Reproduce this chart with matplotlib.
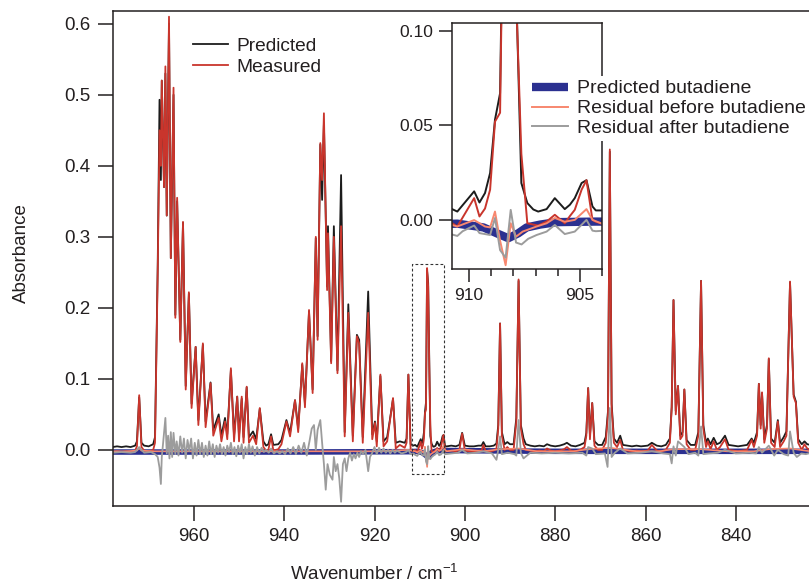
import matplotlib
matplotlib.use("Agg")
import matplotlib.pyplot as plt
from matplotlib.patches import Rectangle
from matplotlib.ticker import MultipleLocator, FormatStrFormatter

plt.rcParams["font.family"] = ["Liberation Sans", "DejaVu Sans"]
plt.rcParams["mathtext.default"] = "regular"
plt.rcParams["text.color"] = "#231f20"
plt.rcParams["axes.labelcolor"] = "#231f20"
plt.rcParams["xtick.color"] = "#231f20"
plt.rcParams["ytick.color"] = "#231f20"

# ------------------------------------
# Spectra (wavenumber in cm-1, absorbance)
# ------------------------------------

wn = [
    # baseline + 972 line
    978.0, 977.0, 976.0, 975.0, 974.0, 973.0, 972.6, 972.1, 971.6, 971.0,
    970.0, 969.0, 968.6,
    # 968-945 band
    968.0, 967.6, 967.3, 967.1, 966.6, 966.3, 966.0, 965.5, 965.1, 964.5,
    964.1, 963.7, 963.0, 962.4, 961.8, 961.1, 960.5, 959.6, 959.0, 958.0,
    957.4, 956.3, 955.7, 954.5, 953.9, 953.1, 952.6, 951.8, 951.1, 950.4,
    950.0, 949.4, 949.0, 948.3, 947.8, 946.9, 946.2, 945.4, 944.6,
    # 944-911 band
    944.0, 943.5, 942.9, 942.4, 941.3, 940.6, 939.5, 938.7, 937.6, 936.9,
    936.0, 935.4, 934.5, 933.7, 933.0, 932.6, 932.0, 931.6, 931.2, 930.5,
    930.3, 929.6, 929.0, 928.2, 927.4, 926.6, 925.8, 924.8, 923.9, 923.4,
    922.6, 921.4, 920.5, 919.9, 919.5, 918.7, 918.0, 917.2, 916.6, 915.9,
    915.3, 914.4, 913.3, 912.9, 912.5, 912.0, 911.4, 911.0,
    # inset region
    910.53, 909.77, 909.53, 909.28, 909.05, 908.83, 908.60, 908.36, 908.12, 907.88,
    907.64, 907.37, 907.10, 906.88, 906.50, 906.13, 905.68, 905.45, 905.23, 904.92,
    904.70, 904.43, 904.28,
    # isolated lines
    904.0, 903.0, 902.0, 901.2, 900.6, 900.0, 899.0, 898.0, 897.0, 896.3,
    895.9, 895.4, 894.5, 893.6, 893.0, 892.6, 892.2, 891.8, 891.2, 890.6,
    890.0, 889.2, 888.6, 888.1, 887.6, 887.0, 886.5, 885.5, 884.5, 883.5,
    882.5, 881.8, 881.0, 880.0, 879.0, 878.0, 877.4, 876.5, 875.5, 874.5,
    873.5, 873.1, 872.7, 872.3, 871.8, 871.3, 870.5, 869.6, 868.8, 868.3,
    867.9, 867.5, 867.0, 866.3, 865.6, 865.0, 864.0, 863.0, 862.0, 861.0,
    859.5, 858.6, 857.5, 856.5, 855.5, 854.6, 854.2, 853.8, 853.3, 852.8,
    852.3, 851.8, 851.4, 850.9, 850.0, 849.0, 848.3, 847.7, 847.2, 846.6,
    846.2, 845.6, 844.9, 844.2, 843.5, 842.4, 841.6, 840.5, 839.5, 838.5,
    837.5, 836.5, 836.0, 835.3, 834.9, 834.5, 834.2, 833.7, 833.1, 832.7,
    832.2, 831.4, 830.7, 830.2, 829.4, 828.8, 828.0, 827.2, 826.7, 826.2,
    825.4, 824.8, 824.2, 823.5,
]

measured = [
    -0.003, -0.002, -0.003, -0.002, -0.003, -0.001, 0.005, 0.077, 0.004, -0.001,
    -0.002, 0.000, 0.010,
    0.250, 0.450, 0.400, 0.520, 0.370, 0.540, 0.330, 0.610, 0.270, 0.510,
    0.186, 0.355, 0.152, 0.321, 0.085, 0.222, 0.059, 0.145, 0.035, 0.150,
    0.032, 0.094, 0.020, 0.045, 0.012, 0.040, 0.015, 0.115, 0.012, 0.075,
    0.012, 0.075, 0.010, 0.089, 0.010, 0.020, 0.008, 0.059, 0.004,
    -0.001, 0.000, 0.019, -0.001, 0.001, 0.008, 0.040, 0.019, 0.070, 0.025,
    0.122, 0.060, 0.197, 0.080, 0.300, 0.155, 0.432, 0.380, 0.474, 0.225,
    0.305, 0.122, 0.300, 0.108, 0.315, 0.019, 0.193, 0.012, 0.160, 0.150,
    0.010, 0.193, 0.015, 0.038, 0.005, 0.106, 0.005, 0.012, 0.040, 0.073,
    0.002, 0.007, 0.003, 0.010, 0.106, 0.000, -0.002, 0.000,
    -0.0035, 0.0115, 0.0018, 0.0060, 0.0160, 0.0520, 0.0567, 0.2560, 0.2300, 0.1200,
    0.0350, -0.0018, -0.0025, -0.0030, -0.0009, 0.0027, -0.0018, 0.0020, 0.0053, 0.0160,
    0.0210, 0.0000, -0.0010,
    -0.002, -0.001, -0.002, 0.000, 0.023, -0.001, -0.002, -0.002, -0.001, -0.001,
    0.007, -0.002, -0.002, -0.001, 0.002, 0.030, 0.178, 0.020, 0.000, 0.004,
    0.000, 0.000, 0.040, 0.240, 0.030, 0.008, 0.000, -0.001, -0.002, -0.001,
    -0.002, 0.002, -0.001, -0.002, -0.001, 0.001, 0.004, -0.001, -0.002, 0.000,
    0.004, 0.020, 0.087, 0.015, 0.066, 0.006, 0.000, 0.000, 0.010, 0.050,
    0.423, 0.060, 0.010, 0.004, 0.014, 0.000, -0.001, -0.002, -0.001, -0.002,
    -0.001, 0.007, -0.001, -0.002, 0.000, 0.010, 0.060, 0.211, 0.050, 0.090,
    0.015, 0.020, 0.085, 0.008, 0.000, 0.000, 0.020, 0.238, 0.030, 0.004,
    0.012, 0.001, 0.012, 0.000, 0.004, 0.015, 0.000, -0.001, -0.002, -0.001,
    0.000, 0.014, 0.004, 0.020, 0.093, 0.030, 0.081, 0.010, 0.030, 0.129,
    0.010, 0.004, 0.040, 0.004, 0.012, 0.020, 0.237, 0.075, 0.066, 0.010,
    0.000, 0.008, 0.002, 0.000,
]

predicted = [
    0.004, 0.005, 0.004, 0.005, 0.004, 0.006, 0.012, 0.074, 0.010, 0.006,
    0.005, 0.008, 0.018,
    0.260, 0.493, 0.380, 0.520, 0.370, 0.530, 0.330, 0.600, 0.270, 0.500,
    0.190, 0.350, 0.155, 0.320, 0.090, 0.220, 0.065, 0.145, 0.042, 0.148,
    0.040, 0.095, 0.028, 0.050, 0.020, 0.045, 0.022, 0.112, 0.020, 0.075,
    0.020, 0.072, 0.018, 0.088, 0.018, 0.026, 0.015, 0.058, 0.012,
    0.006, 0.008, 0.022, 0.007, 0.008, 0.014, 0.042, 0.024, 0.070, 0.030,
    0.120, 0.065, 0.195, 0.085, 0.298, 0.160, 0.430, 0.352, 0.460, 0.230,
    0.315, 0.125, 0.315, 0.112, 0.387, 0.025, 0.205, 0.020, 0.162, 0.155,
    0.018, 0.223, 0.022, 0.040, 0.012, 0.104, 0.012, 0.018, 0.042, 0.072,
    0.010, 0.012, 0.010, 0.016, 0.106, 0.008, 0.006, 0.007,
    0.0044, 0.0151, 0.0092, 0.0142, 0.0248, 0.0530, 0.0670, 0.2520, 0.2350, 0.1250,
    0.0195, 0.0089, 0.0055, 0.0044, 0.0057, 0.0115, 0.0057, 0.0080, 0.0115, 0.0195,
    0.0210, 0.0071, 0.0050,
    0.005, 0.006, 0.005, 0.007, 0.024, 0.006, 0.005, 0.005, 0.006, 0.006,
    0.011, 0.005, 0.005, 0.006, 0.009, 0.035, 0.178, 0.025, 0.008, 0.011,
    0.008, 0.008, 0.045, 0.238, 0.035, 0.016, 0.008, 0.006, 0.005, 0.006,
    0.005, 0.008, 0.006, 0.005, 0.006, 0.008, 0.010, 0.006, 0.005, 0.007,
    0.010, 0.024, 0.087, 0.020, 0.066, 0.012, 0.007, 0.007, 0.018, 0.055,
    0.420, 0.065, 0.016, 0.010, 0.020, 0.007, 0.006, 0.005, 0.006, 0.005,
    0.006, 0.010, 0.006, 0.005, 0.007, 0.016, 0.060, 0.211, 0.055, 0.090,
    0.020, 0.025, 0.085, 0.014, 0.007, 0.007, 0.025, 0.238, 0.035, 0.010,
    0.016, 0.008, 0.017, 0.008, 0.010, 0.020, 0.007, 0.006, 0.005, 0.006,
    0.007, 0.016, 0.010, 0.025, 0.093, 0.035, 0.080, 0.015, 0.035, 0.128,
    0.016, 0.010, 0.042, 0.010, 0.018, 0.026, 0.236, 0.078, 0.068, 0.015,
    0.008, 0.012, 0.008, 0.007,
]

# residual after butadiene (grey)
wn_after = [
    978.0, 976.0, 974.0, 973.0, 972.1, 971.0, 969.5, 968.6, 968.0, 967.6,
    967.3, 967.1, 966.8, 966.3, 966.0, 965.7, 965.4, 965.1, 964.8, 964.5,
    964.1, 963.8, 963.4, 963.0, 962.6, 962.2, 961.8, 961.4, 961.0, 960.6,
    960.2, 959.8, 959.4, 959.0, 958.6, 958.2, 957.8, 957.4, 957.0, 956.6,
    956.2, 955.8, 955.4, 955.0, 954.6, 954.2, 953.8, 953.4, 953.0, 952.6,
    952.2, 951.8, 951.4, 951.0, 950.6, 950.2, 949.8, 949.4, 949.0, 948.6,
    948.2, 947.8, 947.4, 947.0, 946.5, 946.0, 945.5, 945.0, 944.5, 944.0,
    943.4, 942.9, 942.3, 941.6, 941.0, 940.4, 939.8, 939.2, 938.6, 938.0,
    937.4, 936.8, 936.2, 935.6, 935.0, 934.4, 933.9, 933.4, 933.0, 932.6,
    932.0, 931.6, 931.2, 930.8, 930.4, 929.9, 929.3, 929.0, 928.6, 928.2,
    927.8, 927.4, 927.0, 926.6, 926.2, 925.8, 925.4, 925.0, 924.6, 924.2,
    923.8, 923.4, 923.0, 922.5, 922.0, 921.4, 921.0, 920.5, 920.0, 919.5,
    919.0, 918.5, 918.0, 917.5, 917.0, 916.5, 916.0, 915.5, 915.0, 914.0,
    913.0, 912.5, 912.0, 911.4, 911.0, 910.53, 910.29, 909.77, 909.53, 909.28,
    909.05, 908.83, 908.60, 908.35, 908.12, 907.88, 907.63, 907.33, 906.95, 906.50,
    906.13, 905.68, 905.23, 904.70, 904.43, 904.28, 903.0, 901.5, 900.6, 899.5,
    897.5, 895.9, 894.0, 893.0, 892.6, 892.2, 891.8, 890.5, 889.0, 888.6,
    888.1, 887.6, 887.0, 885.5, 883.0, 880.0, 877.0, 874.0, 873.1, 872.7,
    871.8, 871.0, 869.0, 868.4, 867.9, 867.5, 866.8, 865.6, 864.0, 861.0,
    858.6, 856.0, 854.6, 854.2, 853.8, 853.3, 852.8, 851.4, 850.5, 849.0,
    848.3, 847.7, 847.2, 846.0, 844.0, 842.4, 840.0, 837.0, 835.5, 834.9,
    834.2, 832.7, 831.5, 830.7, 829.4, 828.4, 828.0, 827.2, 826.5, 825.5,
    824.5, 823.5,
]

res_after = [
    -0.004, -0.003, -0.004, -0.003, 0.004, -0.004, -0.003, -0.006, -0.010, -0.025,
    -0.048, -0.010, 0.010, 0.045, -0.005, 0.020, -0.012, 0.025, -0.010, 0.024,
    -0.006, 0.012, -0.008, 0.019, -0.004, 0.016, -0.012, 0.014, -0.002, 0.016,
    -0.012, 0.010, -0.008, 0.014, -0.006, 0.010, -0.010, 0.006, -0.008, 0.012,
    -0.006, 0.008, -0.010, 0.006, -0.004, 0.008, -0.006, 0.004, -0.008, 0.006,
    -0.003, 0.010, -0.006, 0.004, -0.009, 0.006, -0.004, 0.008, -0.012, 0.004,
    -0.006, 0.008, -0.004, 0.005, -0.008, 0.004, -0.005, 0.003, -0.003, 0.000,
    -0.004, 0.002, -0.005, -0.002, -0.005, -0.002, -0.006, 0.002, -0.005, 0.004,
    -0.006, 0.006, -0.004, 0.010, -0.008, 0.012, 0.030, 0.035, 0.000, 0.028,
    0.042, 0.010, -0.020, -0.056, -0.020, -0.035, -0.042, -0.010, -0.030, -0.020,
    -0.040, -0.073, -0.020, -0.012, -0.030, -0.012, -0.004, -0.015, -0.006, -0.012,
    -0.004, -0.010, -0.002, -0.006, 0.000, -0.030, -0.010, -0.004, 0.004, -0.006,
    0.003, -0.004, 0.002, -0.004, 0.000, -0.005, 0.000, -0.004, -0.001, -0.005,
    -0.003, 0.000, -0.006, -0.005, -0.007, -0.0085, -0.006, -0.003, -0.007, -0.0075,
    -0.008, 0.001, -0.016, -0.020, 0.0053, -0.012, -0.013, -0.010, -0.008, -0.0062,
    -0.0027, -0.0075, -0.0062, 0.000, -0.0057, -0.006, -0.005, -0.004, 0.000, -0.005,
    -0.004, -0.002, -0.005, -0.014, 0.000, 0.019, -0.006, -0.004, -0.006, -0.008,
    0.042, -0.004, -0.012, -0.004, -0.005, -0.004, -0.005, -0.004, -0.008, 0.004,
    0.002, -0.006, -0.005, -0.024, 0.059, -0.010, -0.004, 0.002, -0.005, -0.004,
    -0.002, -0.005, -0.006, -0.019, 0.005, -0.008, 0.012, 0.004, -0.006, -0.004,
    -0.008, 0.033, -0.006, -0.005, -0.004, 0.000, -0.005, -0.004, -0.005, 0.004,
    -0.004, 0.006, -0.008, 0.000, -0.006, -0.008, 0.026, -0.004, -0.010, -0.005,
    -0.006, -0.004,
]

# residual before butadiene (salmon)
wn_before = [
    978.0, 975.0, 972.6, 972.1, 971.6, 969.0, 968.6, 960.0, 950.0, 944.0,
    938.0, 930.0, 920.0, 912.5, 911.0, 910.53, 909.77, 909.28, 909.05, 908.83,
    908.60, 908.35, 908.12, 907.88, 907.58, 906.95, 906.50, 906.13, 905.68, 905.23,
    904.70, 904.43, 904.0, 900.6, 896.0, 892.2, 888.1, 884.0, 876.0, 872.7,
    867.9, 862.0, 857.0, 853.8, 847.7, 842.0, 836.0, 832.7, 828.0, 823.5,
]
res_before = [
    -0.002, -0.002, -0.001, 0.003, -0.001, -0.002, -0.002, -0.002, -0.002, -0.002,
    -0.002, -0.002, -0.002, 0.000, -0.002, -0.0035, -0.0001, -0.0035, -0.004, 0.0044,
    -0.011, -0.024, -0.0018, -0.0089, -0.0062, -0.0035, -0.0018, 0.001, -0.001, 0.000,
    0.0057, 0.000, -0.002, 0.001, -0.002, 0.001, 0.002, -0.002, -0.002, 0.001,
    0.003, -0.002, -0.002, 0.001, 0.001, -0.002, -0.002, 0.001, 0.002, -0.002,
]

# predicted butadiene (navy)
wn_but = [978.0, 940.0, 912.0, 910.53, 909.35, 908.75, 908.23, 907.78, 907.40,
          906.80, 906.05, 904.28, 880.0, 823.5]
butadiene = [-0.003, -0.003, -0.0025, -0.002, -0.004, -0.0071, -0.0097, -0.0071,
             -0.004, -0.0025, -0.0012, -0.0009, -0.002, -0.002]

c_pred = "#1c1c1c"
c_meas = "#c9352c"
c_before = "#f7876f"
c_after = "#9c9c9c"
c_but = "#2b3090"

fig = plt.figure(figsize=(8.09, 5.83), dpi=100)

# ------------------------------------
# Main axes
# ------------------------------------
ax = fig.add_axes([113 / 809, 1 - 506 / 583, 696 / 809, 495 / 583])

ax.plot(wn_but, butadiene, color=c_but, lw=4, solid_capstyle="butt")
l_pred, = ax.plot(wn, predicted, color=c_pred, lw=1.3, label="Predicted")
l_meas, = ax.plot(wn, measured, color=c_meas, lw=1.3, label="Measured")
ax.plot(wn_before, res_before, color=c_before, lw=1.2)
ax.plot(wn_after, res_after, color=c_after, lw=1.3)

ax.add_patch(Rectangle((904.6, -0.034), 7.1, 0.296, fill=False,
                       ls=(0, (2.5, 2)), lw=0.8, ec="#333333", zorder=5))

ax.set_xlim(977.9, 823.8)
ax.set_ylim(-0.079, 0.618)
ax.xaxis.set_major_locator(MultipleLocator(20))
ax.yaxis.set_major_locator(MultipleLocator(0.1))
ax.yaxis.set_major_formatter(FormatStrFormatter("%.1f"))
ax.tick_params(direction="out", length=11, width=1.1, labelsize=13.5, pad=5)
for s in ax.spines.values():
    s.set_linewidth(1.1)
    s.set_color("#231f20")
ax.spines["right"].set_visible(False)

ax.set_xlabel("Wavenumber / cm$^{-1}$", fontsize=13.5)
ax.set_ylabel("Absorbance", fontsize=13.5)
ax.xaxis.set_label_coords(0.376, -0.116)
ax.yaxis.set_label_coords(-0.12, 0.51)

ax.legend(handles=[l_pred, l_meas], loc="upper left", bbox_to_anchor=(0.115, 0.947),
          frameon=False, borderaxespad=0, borderpad=0, handlelength=1.8,
          handletextpad=0.45, labelspacing=0.2, fontsize=13.8)

# ------------------------------------
# Inset around the butadiene band
# ------------------------------------
axin = fig.add_axes([452 / 809, 1 - 269 / 583, 150 / 809, 246 / 583])
axin.set_facecolor("white")

b_but, = axin.plot(wn_but, butadiene, color=c_but, lw=6, solid_capstyle="butt",
                   label="Predicted butadiene")
axin.plot(wn, predicted, color=c_pred, lw=1.4)
axin.plot(wn, measured, color=c_meas, lw=1.4)
b_before, = axin.plot(wn_before, res_before, color=c_before, lw=1.4,
                      label="Residual before butadiene")
b_after, = axin.plot(wn_after, res_after, color=c_after, lw=1.4,
                     label="Residual after butadiene")

axin.set_xlim(910.77, 904.0)
axin.set_ylim(-0.026, 0.1042)
axin.xaxis.set_major_locator(MultipleLocator(5))
axin.xaxis.set_minor_locator(MultipleLocator(1))
axin.yaxis.set_major_locator(MultipleLocator(0.05))
axin.yaxis.set_major_formatter(FormatStrFormatter("%.2f"))
axin.tick_params(which="major", direction="out", length=9.5, width=1.1,
                 labelsize=12.5, pad=4)
axin.tick_params(which="minor", direction="out", length=5, width=1.1)
for s in axin.spines.values():
    s.set_linewidth(1.1)
    s.set_color("#231f20")

leg = axin.legend(handles=[b_but, b_before, b_after], loc="upper left",
                  bbox_to_anchor=(0.507, 0.785), frameon=True, fancybox=False,
                  framealpha=1, facecolor="white", edgecolor="none",
                  borderaxespad=0, borderpad=0.2, handlelength=1.85,
                  handletextpad=0.45, labelspacing=0.12, fontsize=14)

fig.savefig("out.png", dpi=100)
